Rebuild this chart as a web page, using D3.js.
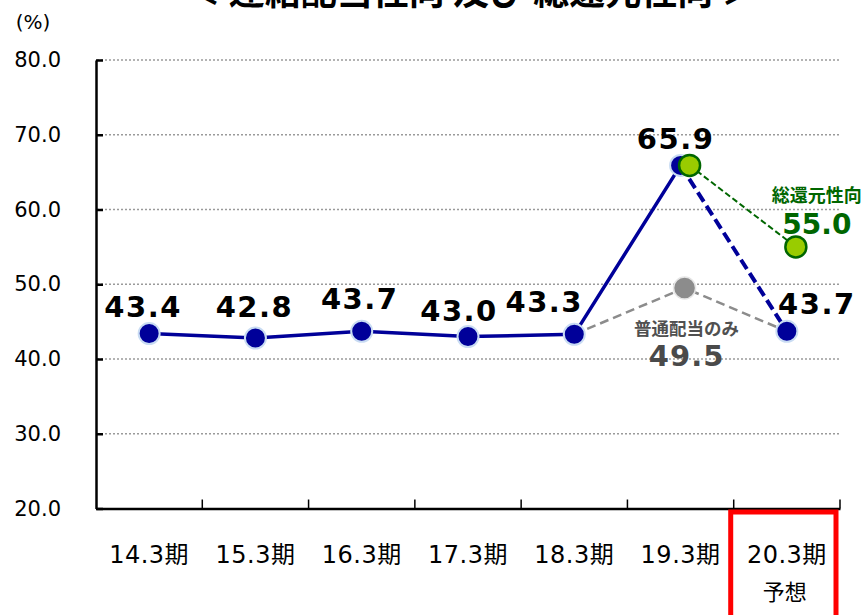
<!DOCTYPE html>
<html lang="ja">
<head>
<meta charset="UTF-8">
<title>連結配当性向 及び 総還元性向</title>
<style>
  body { margin: 0; background: #fff; }
  svg { display: block; }
</style>
</head>
<body>
<script src="https://cdn.jsdelivr.net/npm/d3@7"></script>
<script>
    // data
    const categories = ['14.3期', '15.3期', '16.3期', '17.3期', '18.3期', '19.3期', '20.3期'];
    const payoutRatio = [43.4, 42.8, 43.7, 43.0, 43.3, 65.9, 43.7];   // 連結配当性向
    const ordinaryCats = ['18.3期', '19.3期', '20.3期'];
    const ordinaryValues = [43.3, 49.5, 43.7];                       // 普通配当のみ
    const totalCats = ['19.3期', '20.3期'];
    const totalValues = [65.9, 55.0];                                // 総還元性向
    const yTicks = [20, 30, 40, 50, 60, 70, 80];
    const forecastCat = '20.3期';
    const forecastNote = '予想';
    const titleText = '＜ 連結配当性向 及び 総還元性向 ＞';

    const w = 868;
    const h = 615;
    const numFont = '"DejaVu Sans", "Noto Sans CJK JP", sans-serif';
    const jpFont = '"Noto Sans CJK JP", "DejaVu Sans", sans-serif';
    const navy = '#000099';
    const green = '#006600';

    const svg = d3.select('body')
        .append('svg')
        .attr('width', w)
        .attr('height', h);

    const x = d3.scaleBand()
        .domain(categories)
        .range([96, 840]);
    const cx = (c) => x(c) + x.bandwidth() / 2;

    const y = d3.scaleLinear()
        .domain([20, 80])
        .range([508.5, 60]);

    // title (cut at the top like the original)
    svg.append('text')
        .attr('x', 471)
        .attr('y', 5)
        .attr('text-anchor', 'middle')
        .attr('font-family', jpFont)
        .attr('font-weight', 'bold')
        .attr('font-size', 36)
        .text(titleText);

    svg.append('text')
        .attr('x', 33)
        .attr('y', 29)
        .attr('text-anchor', 'middle')
        .attr('font-family', numFont)
        .attr('font-size', 20)
        .text('(%)');

    // dotted grid
    svg.append('g')
        .selectAll('line')
        .data(yTicks.filter((d) => d > 20))
        .enter()
        .append('line')
        .attr('x1', 97)
        .attr('x2', 840)
        .attr('y1', (d) => y(d))
        .attr('y2', (d) => y(d))
        .attr('stroke', '#9a9a9a')
        .attr('stroke-width', 1.5)
        .attr('stroke-dasharray', '2,2');

    // y axis, ticks pointing inward
    const yAxis = svg.append('g')
        .attr('transform', 'translate(96,0)')
        .call(d3.axisLeft(y)
            .tickValues(yTicks)
            .tickSizeInner(-7)
            .tickSizeOuter(0)
            .tickPadding(35)
            .tickFormat(d3.format('.1f')));
    yAxis.select('.domain').attr('stroke', '#000').attr('stroke-width', 2.5);
    yAxis.selectAll('.tick line').attr('stroke', '#000').attr('stroke-width', 2.5);
    yAxis.selectAll('.tick text')
        .attr('font-family', numFont)
        .attr('font-size', 21)
        .attr('fill', '#000');

    // x axis: line, boundary ticks, labels
    const xAxis = svg.append('g')
        .attr('transform', `translate(0,${y(20)})`)
        .call(d3.axisBottom(x).tickSize(0).tickPadding(37).tickSizeOuter(0));
    xAxis.select('.domain').attr('stroke', '#000').attr('stroke-width', 2.5);
    xAxis.selectAll('.tick text')
        .attr('font-family', numFont)
        .attr('font-size', 24)
        .attr('letter-spacing', 0.5)
        .attr('fill', '#000');

    const bounds = categories.map((c) => x(c)).concat([x.range()[1]]);
    xAxis.selectAll('line.bound')
        .data(bounds.slice(1))
        .enter()
        .append('line')
        .attr('class', 'bound')
        .attr('x1', (d) => d)
        .attr('x2', (d) => d)
        .attr('y1', 0)
        .attr('y2', -9)
        .attr('stroke', '#000')
        .attr('stroke-width', 1.5);

    svg.append('text')
        .attr('x', cx(forecastCat) - 2)
        .attr('y', 600)
        .attr('text-anchor', 'middle')
        .attr('font-family', jpFont)
        .attr('font-size', 22)
        .text(forecastNote);

    svg.append('rect')
        .attr('x', x(forecastCat) - 3)
        .attr('y', y(20) + 3.5)
        .attr('width', x.bandwidth() - 1)
        .attr('height', 140)
        .attr('fill', 'none')
        .attr('stroke', '#ff0000')
        .attr('stroke-width', 5);

    // series positions
    const mainPts = categories.map((c, i) => ({ x: cx(c), y: y(payoutRatio[i]), v: payoutRatio[i] }));
    const ordPts = ordinaryCats.map((c, i) => ({
        x: cx(c) + (c === '19.3期' ? 4 : 0), y: y(ordinaryValues[i]), v: ordinaryValues[i]
    }));
    const totPts = totalCats.map((c, i) => ({ x: cx(c) + 9, y: y(totalValues[i]), v: totalValues[i] }));

    const line = d3.line().x((d) => d.x).y((d) => d.y);

    svg.append('path')
        .attr('d', line(ordPts))
        .attr('fill', 'none')
        .attr('stroke', '#8c8c8c')
        .attr('stroke-width', 2.5)
        .attr('stroke-dasharray', '9,5');

    svg.append('path')
        .attr('d', line(totPts))
        .attr('fill', 'none')
        .attr('stroke', green)
        .attr('stroke-width', 2)
        .attr('stroke-dasharray', '6,3');

    svg.append('path')
        .attr('d', line(mainPts.slice(0, 6)))
        .attr('fill', 'none')
        .attr('stroke', navy)
        .attr('stroke-width', 3.5);

    svg.append('path')
        .attr('d', line(mainPts.slice(5)))
        .attr('fill', 'none')
        .attr('stroke', navy)
        .attr('stroke-width', 4)
        .attr('stroke-dasharray', '11,5');

    // markers
    svg.append('circle')
        .attr('cx', ordPts[1].x)
        .attr('cy', ordPts[1].y)
        .attr('r', 11)
        .attr('fill', '#8c8c8c')
        .attr('stroke', '#e6e6e6')
        .attr('stroke-width', 1.5);

    svg.selectAll('circle.main')
        .data(mainPts)
        .enter()
        .append('circle')
        .attr('class', 'main')
        .attr('cx', (d) => d.x)
        .attr('cy', (d) => d.y)
        .attr('r', 10.5)
        .attr('fill', navy)
        .attr('stroke', '#c9dcf3')
        .attr('stroke-width', 2);

    svg.selectAll('circle.total')
        .data(totPts)
        .enter()
        .append('circle')
        .attr('class', 'total')
        .attr('cx', (d) => d.x)
        .attr('cy', (d) => d.y)
        .attr('r', 10.5)
        .attr('fill', '#99cc00')
        .attr('stroke', green)
        .attr('stroke-width', 2.5);

    // value labels, nudged like the original
    const mainOffsets = [[-6, -16.5], [-1, -21], [-2, -22], [-9, -15.5], [-30, -22], [-5, -16], [30, -17]];
    svg.selectAll('text.mainLabel')
        .data(mainPts)
        .enter()
        .append('text')
        .attr('class', 'mainLabel')
        .attr('x', (d, i) => d.x + mainOffsets[i][0])
        .attr('y', (d, i) => d.y + mainOffsets[i][1])
        .attr('text-anchor', 'middle')
        .attr('font-family', numFont)
        .attr('font-weight', 'bold')
        .attr('font-size', 29)
        .attr('letter-spacing', 1.5)
        .attr('fill', '#000')
        .text((d) => d.v.toFixed(1));

    const op = ordPts[1];
    svg.append('text')
        .attr('x', op.x + 2)
        .attr('y', op.y + 47)
        .attr('text-anchor', 'middle')
        .attr('font-family', jpFont)
        .attr('font-weight', 'bold')
        .attr('font-size', 17.5)
        .attr('fill', '#505050')
        .text('普通配当のみ');
    svg.append('text')
        .attr('x', op.x + 2)
        .attr('y', op.y + 78)
        .attr('text-anchor', 'middle')
        .attr('font-family', numFont)
        .attr('font-weight', 'bold')
        .attr('font-size', 29)
        .attr('letter-spacing', 1)
        .attr('fill', '#4a4a4a')
        .text(op.v.toFixed(1));

    const tp = totPts[1];
    svg.append('text')
        .attr('x', tp.x + 21)
        .attr('y', tp.y - 45)
        .attr('text-anchor', 'middle')
        .attr('font-family', jpFont)
        .attr('font-weight', 'bold')
        .attr('font-size', 18)
        .attr('fill', green)
        .text('総還元性向');
    svg.append('text')
        .attr('x', tp.x + 21)
        .attr('y', tp.y - 13)
        .attr('text-anchor', 'middle')
        .attr('font-family', numFont)
        .attr('font-weight', 'bold')
        .attr('font-size', 28)
        .attr('fill', green)
        .text(tp.v.toFixed(1));
</script>
</body>
</html>
